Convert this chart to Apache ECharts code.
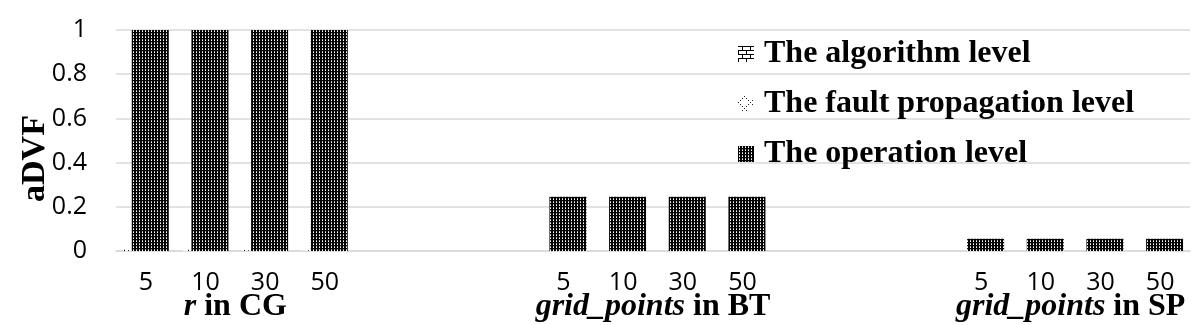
<!DOCTYPE html>
<html>
<head>
<meta charset="utf-8">
<script src="https://cdn.jsdelivr.net/npm/echarts@6/dist/echarts.min.js"></script>
<style>
  html, body { margin: 0; padding: 0; background: #fff; }
  #chart { width: 1200px; height: 325px; }
</style>
</head>
<body>
<div id="chart"></div>
<script>
// ---- data ----
const paramLabels = ['5', '10', '30', '50'];
const groupNames = ['CG', 'BT', 'SP'];
const groupVariables = ['r', 'grid_points', 'grid_points'];
const seriesNames = ['The algorithm level', 'The fault propagation level', 'The operation level'];
// values per group, in order of paramLabels
const algorithmLevel = [
  [0.006, 0.006, 0.004, 0.002],
  [0, 0, 0, 0],
  [0, 0, 0, 0]
];
const faultPropagationLevel = [
  [0.005, 0.005, 0.003, 0.002],
  [0, 0, 0, 0],
  [0, 0, 0, 0]
];
const operationLevel = [
  [1, 1, 1, 1],
  [0.245, 0.245, 0.245, 0.245],
  [0.055, 0.055, 0.055, 0.055]
];
const yTicks = [0, 0.2, 0.4, 0.6, 0.8, 1];
const spacerCount = 3;

// ---- build category axis with spacers between groups ----
const categories = [];
const groupCenters = [];
function flatten(groups) {
  const out = [];
  groups.forEach((g, gi) => {
    g.forEach(v => out.push(v));
    if (gi < groups.length - 1) for (let s = 0; s < spacerCount; s++) out.push('-');
  });
  return out;
}
groupNames.forEach((g, gi) => {
  const start = categories.length;
  paramLabels.forEach(p => categories.push(p));
  groupCenters.push(start + paramLabels.length / 2);
  if (gi < groupNames.length - 1) for (let s = 0; s < spacerCount; s++) categories.push(' '.repeat(s + 1));
});
const totalSlots = categories.length;

// ---- patterns ----
function makePattern(w, h, draw) {
  const c = document.createElement('canvas');
  c.width = w; c.height = h;
  const ctx = c.getContext('2d');
  draw(ctx);
  return { image: c, repeat: 'repeat' };
}
const opPattern = makePattern(3, 3, ctx => {
  ctx.fillStyle = '#000'; ctx.fillRect(0, 0, 3, 3);
  ctx.fillStyle = '#fff'; ctx.fillRect(1, 1, 1, 1);
  ctx.fillStyle = '#b0b0b0'; ctx.fillRect(1, 0, 1, 1);
});
const algPattern = makePattern(8, 8, ctx => {
  ctx.fillStyle = '#fff'; ctx.fillRect(0, 0, 8, 8);
  ctx.fillStyle = '#000';
  ctx.fillRect(0, 0, 8, 1);
  ctx.fillRect(0, 4, 8, 1);
  ctx.fillRect(4, 0, 1, 4);
  ctx.fillRect(0, 4, 1, 4);
});
const faultPattern = makePattern(12, 12, ctx => {
  ctx.fillStyle = '#fff'; ctx.fillRect(0, 0, 12, 12);
  ctx.fillStyle = '#222';
  for (let i = 0; i < 12; i += 2) {
    ctx.fillRect(i, Math.abs(6 - i), 1, 1);
    ctx.fillRect(i, 12 - Math.abs(6 - i), 1, 1);
  }
});
const patterns = [algPattern, faultPattern, opPattern];
const dataSets = [algorithmLevel, faultPropagationLevel, operationLevel];

const chart = echarts.init(document.getElementById('chart'), null, { renderer: 'canvas' });

const option = {
  animation: false,
  backgroundColor: '#fff',
  grid: { left: 116, right: 10, top: 30, bottom: 74, containLabel: false },
  legend: {
    orient: 'vertical',
    left: 733,
    top: 32,
    itemWidth: 16,
    itemHeight: 16,
    itemGap: 16,
    icon: 'rect',
    data: seriesNames,
    textStyle: {
      fontFamily: 'Liberation Serif',
      fontWeight: 'bold',
      fontSize: 32,
      lineHeight: 34,
      color: '#000',
      padding: [0, 0, 0, 5]
    }
  },
  xAxis: [
    {
      type: 'category',
      data: categories,
      axisLine: { show: true, lineStyle: { color: '#d9d9d9', width: 1.5 } },
      axisTick: { show: false },
      axisLabel: {
        interval: 0,
        margin: 19,
        fontFamily: 'Open Sans',
        fontSize: 25,
        color: '#000'
      }
    },
    {
      type: 'value',
      min: 0,
      max: totalSlots,
      position: 'bottom',
      axisLine: { show: false },
      axisTick: { show: false },
      splitLine: { show: false },
      axisLabel: {
        customValues: groupCenters,
        margin: 40,
        showMinLabel: true,
        showMaxLabel: true,
        formatter: function (v) {
          const gi = groupCenters.indexOf(v);
          if (gi < 0) return '';
          return '{i|' + groupVariables[gi] + '}{b| in ' + groupNames[gi] + '}';
        },
        rich: {
          i: { fontFamily: 'Liberation Serif', fontStyle: 'italic', fontWeight: 'bold', fontSize: 32, color: '#000' },
          b: { fontFamily: 'Liberation Serif', fontWeight: 'bold', fontSize: 32, color: '#000' }
        }
      }
    }
  ],
  yAxis: {
    type: 'value',
    min: yTicks[0],
    max: yTicks[yTicks.length - 1],
    interval: 0.2,
    name: 'aDVF',
    nameLocation: 'middle',
    nameGap: 64,
    nameMoveOverlap: false,
    nameTextStyle: {
      fontFamily: 'Liberation Serif',
      fontWeight: 'bold',
      fontSize: 34,
      color: '#000',
      padding: [0, 36, 0, 0]
    },
    axisLine: { show: false },
    axisTick: { show: false },
    splitLine: { lineStyle: { color: '#d9d9d9', width: 1.5 } },
    axisLabel: {
      margin: 29,
      fontFamily: 'Open Sans',
      fontSize: 25,
      color: '#000',
      formatter: v => String(Math.round(v * 10) / 10)
    }
  },
  series: seriesNames.map((name, si) => ({
    name: name,
    type: 'bar',
    xAxisIndex: 0,
    barWidth: 37,
    barGap: '-88%',
    itemStyle: { color: patterns[si] },
    emphasis: { disabled: true },
    data: flatten(dataSets[si])
  }))
};
chart.setOption(option);
</script>
</body>
</html>
